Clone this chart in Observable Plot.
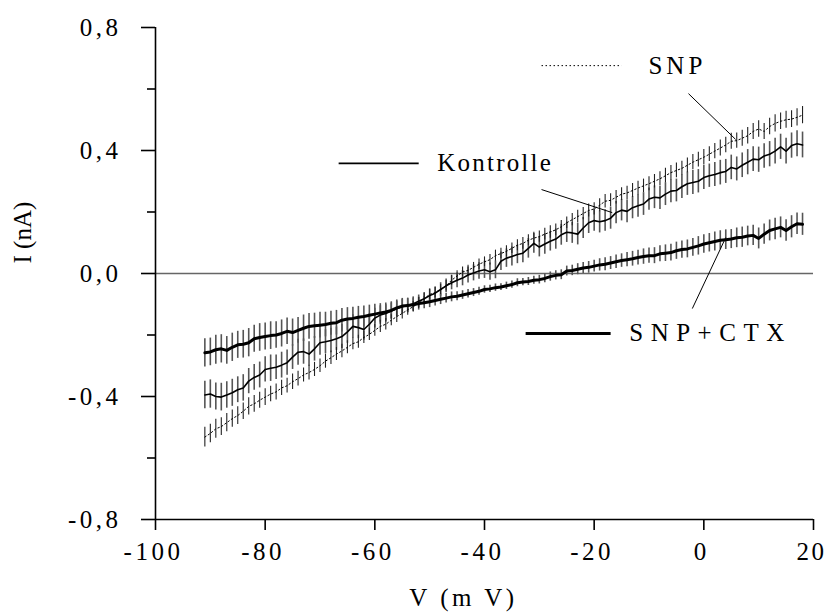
<!DOCTYPE html>
<html>
<head>
<meta charset="utf-8">
<script src="https://cdn.jsdelivr.net/npm/d3@7"></script>
<script src="https://cdn.jsdelivr.net/npm/@observablehq/plot@0.6"></script>
<style>
  html, body { margin: 0; padding: 0; background: white; }
</style>
</head>
<body>
<div id="chart"></div>
<script>
// ---- data ----
const voltage = [-91,-90,-89,-88,-87,-86,-85,-84,-83,-82,-81,-80,-79,-78,-77,-76,-75,-74,-73,-72,-71,-70,-69,-68,-67,-66,-65,-64,-63,-62,-61,-60,-59,-58,-57,-56,-55,-54,-53,-52,-51,-50,-49,-48,-47,-46,-45,-44,-43,-42,-41,-40,-39,-38,-37,-36,-35,-34,-33,-32,-31,-30,-29,-28,-27,-26,-25,-24,-23,-22,-21,-20,-19,-18,-17,-16,-15,-14,-13,-12,-11,-10,-9,-8,-7,-6,-5,-4,-3,-2,-1,0,1,2,3,4,5,6,7,8,9,10,11,12,13,14,15,16,17,18];

const kontrolle = [-0.395,-0.392,-0.400,-0.402,-0.395,-0.388,-0.378,-0.372,-0.350,-0.338,
  -0.330,-0.312,-0.308,-0.305,-0.298,-0.290,-0.272,-0.256,-0.254,-0.262,
  -0.245,-0.225,-0.222,-0.218,-0.212,-0.205,-0.190,-0.172,-0.176,-0.182,
  -0.165,-0.145,-0.135,-0.130,-0.122,-0.115,-0.108,-0.104,-0.098,-0.090,
  -0.082,-0.072,-0.064,-0.052,-0.040,-0.030,-0.022,-0.015,-0.005,0.002,
  0.008,0.012,0.006,0.012,0.040,0.050,0.055,0.062,0.066,0.082,
  0.098,0.086,0.096,0.105,0.112,0.126,0.134,0.132,0.128,0.148,
  0.165,0.172,0.168,0.172,0.180,0.198,0.206,0.202,0.214,0.220,
  0.226,0.242,0.248,0.246,0.258,0.268,0.270,0.282,0.292,0.296,
  0.300,0.312,0.318,0.322,0.328,0.332,0.345,0.340,0.352,0.362,
  0.372,0.370,0.382,0.388,0.398,0.412,0.398,0.416,0.422,0.418];
const kontrolleErr = [0.045,0.046,0.044,0.045,0.043,0.044,0.042,0.043,0.041,0.042,
  0.042,0.041,0.043,0.040,0.042,0.041,0.040,0.042,0.041,0.040,
  0.040,0.041,0.039,0.040,0.038,0.039,0.037,0.038,0.036,0.035,
  0.034,0.032,0.030,0.028,0.026,0.025,0.024,0.022,0.022,0.020,
  0.020,0.021,0.020,0.022,0.022,0.023,0.024,0.025,0.026,0.026,
  0.027,0.028,0.028,0.029,0.030,0.030,0.031,0.030,0.031,0.032,
  0.032,0.032,0.033,0.032,0.033,0.034,0.033,0.034,0.035,0.034,
  0.035,0.035,0.036,0.035,0.036,0.036,0.035,0.037,0.036,0.037,
  0.037,0.036,0.037,0.038,0.037,0.038,0.037,0.038,0.038,0.039,
  0.038,0.039,0.038,0.039,0.040,0.039,0.040,0.039,0.040,0.041,
  0.040,0.041,0.040,0.041,0.042,0.041,0.042,0.041,0.042,0.042];

const snp = [-0.532,-0.520,-0.505,-0.498,-0.485,-0.472,-0.462,-0.448,-0.432,-0.424,
  -0.412,-0.402,-0.392,-0.385,-0.372,-0.365,-0.352,-0.342,-0.330,-0.322,
  -0.312,-0.300,-0.285,-0.274,-0.262,-0.252,-0.240,-0.228,-0.222,-0.208,
  -0.198,-0.185,-0.172,-0.165,-0.152,-0.140,-0.130,-0.118,-0.108,-0.096,
  -0.082,-0.068,-0.062,-0.052,-0.040,-0.022,-0.008,0.005,0.010,0.020,
  0.030,0.038,0.045,0.058,0.065,0.072,0.082,0.092,0.098,0.108,
  0.115,0.120,0.128,0.135,0.142,0.152,0.165,0.175,0.185,0.195,
  0.205,0.210,0.222,0.235,0.238,0.248,0.258,0.262,0.270,0.278,
  0.285,0.292,0.300,0.308,0.318,0.328,0.335,0.342,0.352,0.362,
  0.370,0.378,0.388,0.398,0.408,0.418,0.430,0.432,0.440,0.448,
  0.462,0.470,0.462,0.478,0.488,0.495,0.500,0.502,0.508,0.515];
const snpErr = [0.032,0.030,0.031,0.029,0.030,0.028,0.029,0.027,0.028,0.027,
  0.026,0.027,0.025,0.026,0.025,0.024,0.025,0.024,0.023,0.024,
  0.023,0.022,0.023,0.022,0.021,0.022,0.021,0.020,0.021,0.020,
  0.020,0.019,0.020,0.019,0.018,0.019,0.018,0.018,0.017,0.018,
  0.017,0.018,0.017,0.016,0.017,0.016,0.017,0.016,0.017,0.016,
  0.017,0.016,0.017,0.018,0.017,0.018,0.017,0.018,0.019,0.018,
  0.019,0.018,0.019,0.020,0.019,0.020,0.019,0.020,0.021,0.020,
  0.021,0.020,0.021,0.022,0.021,0.022,0.021,0.022,0.023,0.022,
  0.022,0.023,0.022,0.023,0.024,0.023,0.024,0.023,0.024,0.025,
  0.024,0.025,0.024,0.025,0.026,0.025,0.026,0.025,0.026,0.027,
  0.026,0.027,0.026,0.027,0.028,0.027,0.028,0.027,0.028,0.028];

const snpCtx = [-0.258,-0.255,-0.248,-0.245,-0.250,-0.240,-0.232,-0.230,-0.225,-0.212,
  -0.208,-0.205,-0.202,-0.200,-0.195,-0.188,-0.192,-0.185,-0.178,-0.172,
  -0.170,-0.168,-0.166,-0.162,-0.160,-0.152,-0.148,-0.146,-0.142,-0.140,
  -0.136,-0.132,-0.128,-0.125,-0.120,-0.112,-0.106,-0.104,-0.102,-0.098,
  -0.095,-0.092,-0.088,-0.084,-0.080,-0.076,-0.074,-0.070,-0.066,-0.062,
  -0.058,-0.052,-0.050,-0.046,-0.044,-0.040,-0.036,-0.030,-0.028,-0.026,
  -0.022,-0.020,-0.016,-0.010,-0.006,-0.004,0.008,0.010,0.014,0.018,
  0.020,0.024,0.028,0.030,0.034,0.038,0.042,0.045,0.048,0.052,
  0.055,0.058,0.058,0.064,0.066,0.068,0.074,0.078,0.080,0.085,
  0.090,0.096,0.100,0.104,0.108,0.110,0.112,0.116,0.118,0.122,
  0.124,0.114,0.128,0.140,0.145,0.150,0.140,0.152,0.162,0.160];
const snpCtxErr = [0.046,0.045,0.047,0.046,0.045,0.046,0.044,0.045,0.046,0.044,
  0.045,0.044,0.045,0.043,0.044,0.043,0.044,0.042,0.043,0.042,
  0.041,0.042,0.040,0.039,0.040,0.038,0.037,0.036,0.035,0.034,
  0.033,0.032,0.030,0.029,0.028,0.026,0.025,0.024,0.022,0.021,
  0.020,0.019,0.018,0.017,0.016,0.016,0.015,0.014,0.014,0.013,
  0.013,0.012,0.012,0.012,0.011,0.012,0.012,0.013,0.012,0.013,
  0.013,0.014,0.014,0.015,0.015,0.016,0.016,0.017,0.018,0.018,
  0.019,0.019,0.020,0.021,0.021,0.022,0.022,0.023,0.024,0.024,
  0.025,0.025,0.026,0.026,0.027,0.027,0.028,0.028,0.029,0.029,
  0.030,0.030,0.030,0.031,0.031,0.032,0.031,0.032,0.033,0.032,
  0.033,0.034,0.033,0.034,0.035,0.034,0.035,0.036,0.035,0.036];

const xTicks = [-100,-80,-60,-40,-20,0,20];
const yTicks = [-0.8,-0.4,0,0.4,0.8];
const yMinorTicks = [-0.6,-0.2,0.2,0.6];

// legend / annotation anchors (data units)
const legendLabels = ["SNP","Kontrolle","SNP+CTX"];
const legendTextX = [-10.1,-48.6,-13.6];
const legendTextY = [0.676,0.358,-0.195];
const legendLineX1 = [-29.6,-66.6,-32.5];
const legendLineX2 = [-15.0,-52.0,-17.0];
const legendSpacing = ["4px","2.2px","7.5px"];
const pointerX1 = [-2.8,-29.6,-2.1];
const pointerY1 = [0.585,0.273,-0.114];
const pointerX2 = [5.8,-16.7,4.0];
const pointerY2 = [0.436,0.198,0.117];

// ---- build tables ----
function rows(vals, errs) {
  return voltage.map((v, i) => ({v, i: vals[i], lo: vals[i] - errs[i], hi: vals[i] + errs[i]}));
}
const kRows = rows(kontrolle, kontrolleErr);
const sRows = rows(snp, snpErr);
const cRows = rows(snpCtx, snpCtxErr);

const styles = {
  "SNP": {stroke: "#000", strokeWidth: 1, strokeDasharray: "1.5,2.5"},
  "Kontrolle": {stroke: "#000", strokeWidth: 1.6},
  "SNP+CTX": {stroke: "#000", strokeWidth: 3}
};
const legend = legendLabels.map((label, j) => ({
  label, tx: legendTextX[j], ty: legendTextY[j], lx1: legendLineX1[j], lx2: legendLineX2[j],
  px1: pointerX1[j], py1: pointerY1[j], px2: pointerX2[j], py2: pointerY2[j]
}));

const fmt = d => d.toFixed(1).replace(".", ",");

const chart = Plot.plot({
  width: 827,
  height: 616,
  marginLeft: 155,
  marginRight: 14,
  marginTop: 27,
  marginBottom: 97,
  x: {domain: [-100, 20], axis: null},
  y: {domain: [-0.8, 0.8], axis: null},
  style: {fontFamily: "'Liberation Serif', 'Times New Roman', serif", fontSize: "25px", color: "#000", background: "white", overflow: "visible"},
  marks: [
    Plot.ruleY([0], {stroke: "#666", strokeWidth: 1.5}),
    // error bars
    Plot.ruleX(cRows, {x: "v", y1: "lo", y2: "hi", stroke: "#555", strokeWidth: 1.6}),
    Plot.ruleX(kRows, {x: "v", y1: "lo", y2: "hi", stroke: "#555", strokeWidth: 1.6}),
    Plot.ruleX(sRows, {x: "v", y1: "lo", y2: "hi", stroke: "#222", strokeWidth: 1.1}),
    // mean curves
    Plot.line(sRows, {x: "v", y: "i", ...styles["SNP"]}),
    Plot.line(kRows, {x: "v", y: "i", ...styles["Kontrolle"]}),
    Plot.line(cRows, {x: "v", y: "i", ...styles["SNP+CTX"]}),
    // axes
    Plot.ruleX([-100], {stroke: "#000", strokeWidth: 1.6}),
    Plot.ruleY([-0.8], {stroke: "#000", strokeWidth: 1.6}),
    Plot.axisY({ticks: yTicks, tickSize: 14, tickPadding: 20, tickFormat: fmt, label: null, strokeWidth: 1.6}),
    Plot.axisY({ticks: yMinorTicks, tickSize: 8, tickFormat: () => "", label: null, strokeWidth: 1.6}),
    Plot.axisX({ticks: xTicks, tickSize: 11, tickFormat: () => "", label: null, strokeWidth: 1.6}),
    Plot.text(xTicks, {x: d => d, text: d => String(d), frameAnchor: "bottom", dy: 40, dx: -2, fontSize: 25}),
    // axis titles
    Plot.text(["I (nA)"], {frameAnchor: "left", dx: -133, dy: -10, rotate: -90, fontSize: 25}),
    Plot.text(["V (m V)"], {frameAnchor: "bottom", dx: -21, dy: 86, fontSize: 25}),
    // legend samples
    ...legend.map(d => Plot.link([d], {x1: "lx1", x2: "lx2", y1: "ty", y2: "ty", ...styles[d.label]})),
    Plot.text(legend, {x: "tx", y: "ty", text: "label", textAnchor: "start", fontSize: 25}),
    // pointers
    Plot.link(legend, {x1: "px1", y1: "py1", x2: "px2", y2: "py2", stroke: "#000", strokeWidth: 1})
  ]
});

const sel = d3.select(chart);
sel.selectAll("text").style("letter-spacing", "3.5px");
sel.selectAll("text").filter(function () { return this.textContent === "I (nA)"; }).style("letter-spacing", "0px");
sel.selectAll("text").filter(function () { return this.textContent === "20"; }).style("letter-spacing", "2.5px");
legendLabels.forEach((label, j) => {
  sel.selectAll("text").filter(function () { return this.textContent === label; }).style("letter-spacing", legendSpacing[j]);
});
document.getElementById("chart").appendChild(chart);
</script>
</body>
</html>
